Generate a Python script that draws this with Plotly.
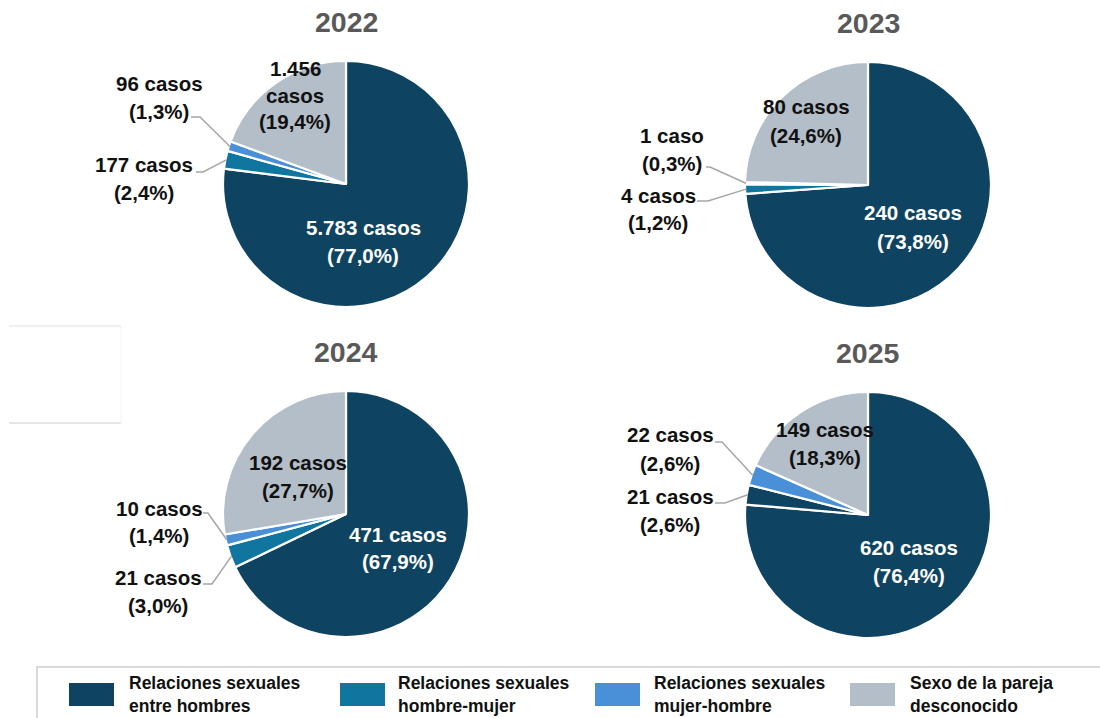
import math
import plotly.graph_objects as go

W, H = 1100, 718

# Categories (legend order) and colours
categories = [
    "Relaciones sexuales<br>entre hombres",
    "Relaciones sexuales<br>hombre-mujer",
    "Relaciones sexuales<br>mujer-hombre",
    "Sexo de la pareja<br>desconocido",
]
legend_lines = [
    ["Relaciones sexuales", "entre hombres"],
    ["Relaciones sexuales", "hombre-mujer"],
    ["Relaciones sexuales", "mujer-hombre"],
    ["Sexo de la pareja", "desconocido"],
]
C_HH = "#0e4461"
C_HM = "#10759f"
C_MH = "#4a90d9"
C_UNK = "#b4bec8"
legend_colors = [C_HH, C_HM, C_MH, C_UNK]

years = ["2022", "2023", "2024", "2025"]

# Cases per category, same order as categories
cases_2022 = [5783, 177, 96, 1456]
cases_2023 = [240, 4, 1, 80]
cases_2024 = [471, 21, 10, 192]
cases_2025 = [620, 21, 22, 149]
cases = [cases_2022, cases_2023, cases_2024, cases_2025]

# Percentage labels as published
pct_2022 = ["77,0%", "2,4%", "1,3%", "19,4%"]
pct_2023 = ["73,8%", "1,2%", "0,3%", "24,6%"]
pct_2024 = ["67,9%", "3,0%", "1,4%", "27,7%"]
pct_2025 = ["76,4%", "2,6%", "2,6%", "18,3%"]
pcts = [pct_2022, pct_2023, pct_2024, pct_2025]

# Slice colours per year
slice_colors = [
    [C_HH, C_HM, C_MH, C_UNK],
    [C_HH, C_HM, C_MH, C_UNK],
    [C_HH, C_HM, C_MH, C_UNK],
    [C_HH, C_HH, C_MH, C_UNK],
]

# Pie placement (pixel centre, radius)
centers = [(346, 184), (868, 185), (346, 514), (868, 515)]
R = 123

LABEL_FONT = "Liberation Sans"


def px(x):
    return x / W


def py(y):
    return 1 - y / H


def fmt_int(n):
    return f"{n:,}".replace(",", ".")


def case_text(n):
    return f"{fmt_int(n)} caso" if n == 1 else f"{fmt_int(n)} casos"


fig = go.Figure()
annotations = []
shapes = []

for k, (yr, vals, cols, (cx, cy)) in enumerate(zip(years, cases, slice_colors, centers)):
    fig.add_trace(go.Pie(
        values=vals,
        labels=[c.replace("<br>", " ") for c in categories],
        marker=dict(colors=cols, line=dict(color="white", width=2.2)),
        sort=False,
        direction="clockwise",
        rotation=0,
        textinfo="none",
        showlegend=False,
        domain=dict(x=[px(cx - R), px(cx + R)], y=[py(cy + R), py(cy - R)]),
    ))
    annotations.append(dict(
        x=px(cx), y=py(cy - 162), xref="paper", yref="paper",
        text=f"<b>{yr}</b>", showarrow=False, xanchor="center", yanchor="middle",
        font=dict(family=LABEL_FONT, size=28.5, color="#595959"),
    ))

# Label layout: (year index, slice index, mode, x centre, y of each line, colour)
label_specs = [
    (0, 0, None, 363, [228, 256], "white"),
    (0, 3, "wrap", 295, [68, 95, 122], "#111111"),
    (0, 2, None, 159, [83, 111], "#111111"),
    (0, 1, None, 144, [165, 193], "#111111"),
    (1, 0, None, 913, [213, 241], "white"),
    (1, 3, None, 806, [107, 135], "#111111"),
    (1, 2, None, 672, [135, 163], "#111111"),
    (1, 1, None, 658, [195, 223], "#111111"),
    (2, 0, None, 398, [534, 561], "white"),
    (2, 3, None, 298, [462, 490], "#111111"),
    (2, 2, None, 159, [508, 535], "#111111"),
    (2, 1, None, 158, [577, 605], "#111111"),
    (3, 0, None, 909, [547, 575], "white"),
    (3, 3, None, 825, [429, 457], "#111111"),
    (3, 2, None, 670, [435, 463], "#111111"),
    (3, 1, None, 670, [496, 524], "#111111"),
]

for yi, si, mode, x, ys, col in label_specs:
    n = cases[yi][si]
    p = pcts[yi][si]
    if mode == "wrap":
        lines = [fmt_int(n), "casos", f"({p})"]
    else:
        lines = [case_text(n), f"({p})"]
    for line, yy in zip(lines, ys):
        annotations.append(dict(
            x=px(x), y=py(yy), xref="paper", yref="paper", text=f"<b>{line}</b>",
            showarrow=False, xanchor="center", yanchor="middle",
            font=dict(family=LABEL_FONT, size=20.5, color=col),
        ))

# Leader lines for the small outside labels: (year, slice, start x, elbow x, y)
leaders = [
    (0, 2, 191, 200, 117),
    (0, 1, 196, 203, 172),
    (1, 2, 706, 710, 167),
    (1, 1, 697, 708, 201),
    (2, 2, 203, 208, 513),
    (2, 1, 203, 212, 584),
    (3, 2, 715, 722, 442),
    (3, 1, 715, 725, 503),
]
for yi, si, x0, x1, yl in leaders:
    vals = cases[yi]
    tot = sum(vals)
    mid = (sum(vals[:si]) + vals[si] / 2) / tot
    th = 2 * math.pi * mid
    cx, cy = centers[yi]
    ex = cx + (R - 1) * math.sin(th)
    ey = cy - (R - 1) * math.cos(th)
    shapes.append(dict(
        type="path", xref="paper", yref="paper",
        path=f"M {px(x0)},{py(yl)} L {px(x1)},{py(yl)} L {px(ex)},{py(ey)}",
        line=dict(color="#a6a6a6", width=1.5),
    ))

# Legend frame
shapes.append(dict(type="rect", xref="paper", yref="paper",
                   x0=px(37), x1=px(1110), y0=py(730), y1=py(667),
                   line=dict(color="#d9d9d9", width=2), fillcolor="white", layer="below"))

# Legend swatches and texts
sw_x = [69, 340, 595, 850]
tx_x = [127, 396, 652, 908]
for col, sx, tx, lines in zip(legend_colors, sw_x, tx_x, legend_lines):
    shapes.append(dict(type="rect", xref="paper", yref="paper",
                       x0=px(sx), x1=px(sx + 45), y0=py(706), y1=py(683),
                       line=dict(width=0), fillcolor=col))
    for line, yy in zip(lines, [683, 706]):
        annotations.append(dict(
            x=px(tx), y=py(yy), xref="paper", yref="paper", text=f"<b>{line}</b>",
            showarrow=False, xanchor="left", yanchor="middle",
            font=dict(family=LABEL_FONT, size=17.5, color="#111111"),
        ))

# Faint empty frame at the left margin
shapes.append(dict(type="line", xref="paper", yref="paper",
                   x0=px(9), x1=px(121), y0=py(326), y1=py(326),
                   line=dict(color="#ebebeb", width=1.5)))
shapes.append(dict(type="line", xref="paper", yref="paper",
                   x0=px(9), x1=px(121), y0=py(423), y1=py(423),
                   line=dict(color="#dedede", width=1.5)))
shapes.append(dict(type="line", xref="paper", yref="paper",
                   x0=px(121), x1=px(121), y0=py(326), y1=py(423),
                   line=dict(color="#f3f3f3", width=1)))

fig.update_layout(
    width=W, height=H,
    margin=dict(l=0, r=0, t=0, b=0),
    paper_bgcolor="white",
    plot_bgcolor="white",
    annotations=annotations,
    shapes=shapes,
    showlegend=False,
)

fig.write_html("out.html")
